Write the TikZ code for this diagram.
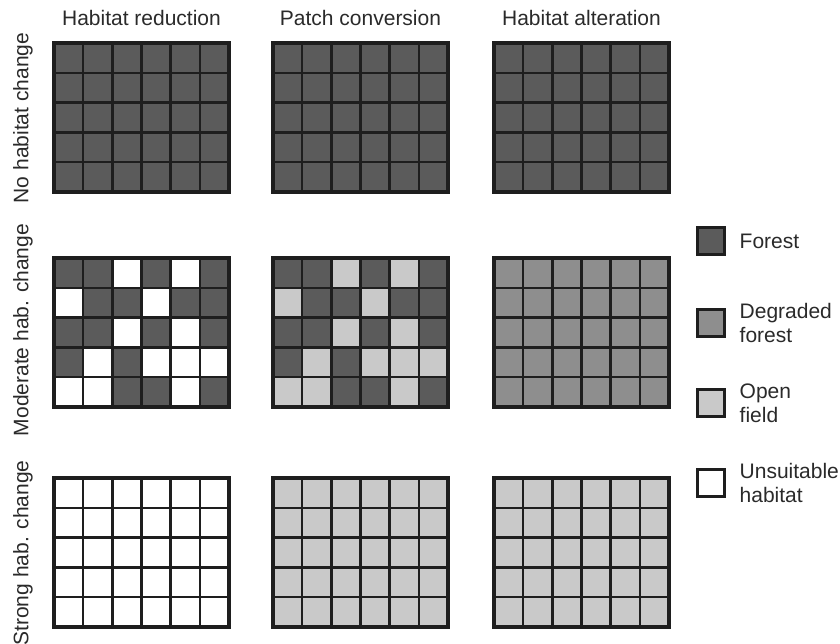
\documentclass[tikz,border=0pt]{standalone}
\usepackage{fontspec}
\setmainfont{Liberation Sans}
\usetikzlibrary{positioning}
\definecolor{forestgray}{HTML}{5B5B5B}
\definecolor{degradedgray}{HTML}{8E8E8E}
\definecolor{opengray}{HTML}{C9C9C9}
\definecolor{gridblack}{HTML}{1E1E1E}
\definecolor{labelgray}{HTML}{2A2A2A}
% one 6x5 landscape grid: x, y, fill
\newcommand{\habgrid}[3]{%
 \fill[#3](#1,#2)rectangle++(175,149);}
\newcommand{\habpatches}[3]{%
 \foreach \c/\r in {2/0,4/0,0/1,3/1,2/2,4/2,1/3,3/3,4/3,5/3,0/4,1/4,4/4}
  \fill[#3](#1+\c*29.167,#2+\r*29.8)rectangle++(29.167,29.8);}
\newcommand{\habframe}[2]{%
 \foreach \i in {1,...,5}\draw[cellline](#1+\i*29.167,#2)--++(0,149);
 \foreach \j in {1,...,4}\draw[cellline](#1,#2+\j*29.8)--++(175,0);
 \draw[frame](#1,#2)rectangle++(175,149);}

\begin{document}
\begin{tikzpicture}[x=1pt,y=-1pt,
 cellline/.style={draw=gridblack,line width=2.4pt},
 frame/.style={draw=gridblack,line width=4.5pt},
 head/.style={font=\fontsize{21}{24}\selectfont,text=labelgray,inner sep=0pt},
 legbox/.style={draw=gridblack,line width=3pt,minimum size=27pt,inner sep=0pt},
 legtext/.style={head,align=left,right=14pt of #1}]
\useasboundingbox(0,0)rectangle(840,644);
% column and row headings
\node[head](colred)at(141.5,17.5){Habitat reduction};
\node[head](colconv)at(360.5,17.5){Patch conversion};
\node[head](colalt)at(581.5,17.5){Habitat alteration};
\node[head,rotate=90](rowno)at(23,118){No habitat change};
\node[head,rotate=90](rowmod)at(23,330){Moderate hab. change};
\node[head,rotate=90](rowstr)at(23,553){Strong hab. change};
% no habitat change
\habgrid{54}{43}{forestgray}\habframe{54}{43}
\habgrid{273}{43}{forestgray}\habframe{273}{43}
\habgrid{494}{43}{forestgray}\habframe{494}{43}
% moderate change
\habgrid{54}{258}{forestgray}\habpatches{54}{258}{white}\habframe{54}{258}
\habgrid{273}{258}{forestgray}\habpatches{273}{258}{opengray}\habframe{273}{258}
\habgrid{494}{258}{degradedgray}\habframe{494}{258}
% strong change
\habgrid{54}{478}{white}\habframe{54}{478}
\habgrid{273}{478}{opengray}\habframe{273}{478}
\habgrid{494}{478}{opengray}\habframe{494}{478}
% legend
\node[legbox,fill=forestgray](legforest)at(710.5,241){};
\node[legtext=legforest](txtforest){Forest};
\node[legbox,fill=degradedgray](legdegr)at(710.5,323){};
\node[legtext=legdegr](txtdegr){Degraded\\forest};
\node[legbox,fill=opengray](legopen)at(710.5,403){};
\node[legtext=legopen](txtopen){Open\\field};
\node[legbox,fill=white](legunsu)at(710.5,483){};
\node[legtext=legunsu](txtunsu){Unsuitable\\habitat};
\end{tikzpicture}
\end{document}
